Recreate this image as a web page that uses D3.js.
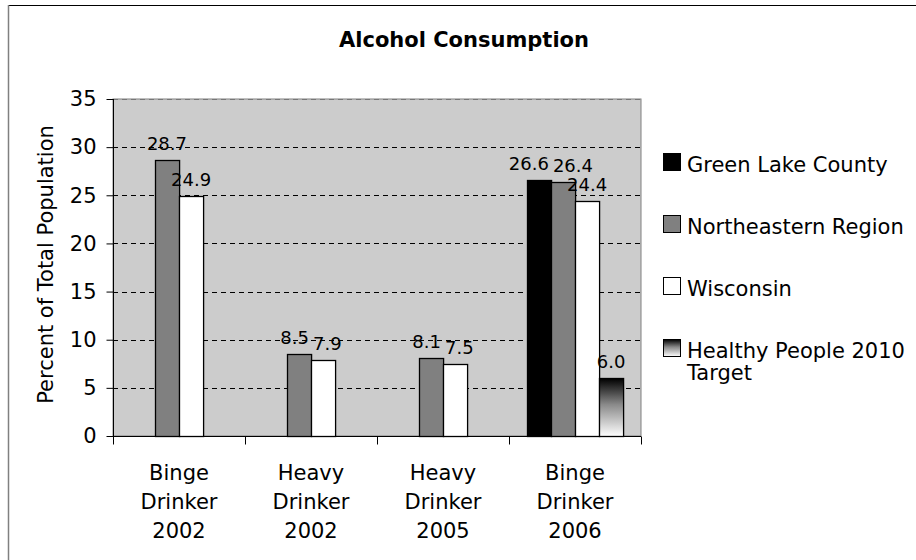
<!DOCTYPE html>
<html>
<head>
<meta charset="utf-8">
<script src="https://cdn.jsdelivr.net/npm/d3@7"></script>
<style>
  html, body { margin: 0; padding: 0; background: #fff; }
  svg { display: block; }
  text { font-family: "DejaVu Sans", Verdana, sans-serif; fill: #000; }
</style>
</head>
<body>
<svg id="chart" width="916" height="560"></svg>
<script>
// ---- Data ----
const title = "Alcohol Consumption";
const yAxisTitle = "Percent of Total Population";
const categories = [
  ["Binge", "Drinker", "2002"],
  ["Heavy", "Drinker", "2002"],
  ["Heavy", "Drinker", "2005"],
  ["Binge", "Drinker", "2006"]
];
const seriesNames = ["Green Lake County", "Northeastern Region", "Wisconsin", "Healthy People 2010 Target"];
const greenLake = [null, null, null, 26.6];
const northeastern = [28.7, 8.5, 8.1, 26.4];
const wisconsin = [24.9, 7.9, 7.5, 24.4];
const healthyPeople = [null, null, null, 6.0];
const yTicks = [0, 5, 10, 15, 20, 25, 30, 35];

const seriesValues = [greenLake, northeastern, wisconsin, healthyPeople];

// ---- Layout ----
const svg = d3.select("#chart");
const plot = { left: 113, right: 641, top: 99, bottom: 436 };

const defs = svg.append("defs");
const grad = defs.append("linearGradient")
  .attr("id", "hpGrad").attr("x1", 0).attr("y1", 0).attr("x2", 0).attr("y2", 1);
grad.append("stop").attr("offset", "0%").attr("stop-color", "#000");
grad.append("stop").attr("offset", "45%").attr("stop-color", "#8a8a8a");
grad.append("stop").attr("offset", "100%").attr("stop-color", "#fff");

const fills = ["#000000", "#808080", "#ffffff", "url(#hpGrad)"];

// outer frame (only top and left visible)
svg.append("line").attr("x1", 8).attr("x2", 916).attr("y1", 5.5).attr("y2", 5.5)
  .attr("stroke", "#000").attr("stroke-width", 1.2);
svg.append("line").attr("x1", 8.5).attr("x2", 8.5).attr("y1", 5).attr("y2", 560)
  .attr("stroke", "#808080").attr("stroke-width", 1.5);

// scales
const x0 = d3.scaleBand().domain(d3.range(categories.length))
  .range([plot.left, plot.right]).paddingInner(0).paddingOuter(0);
const gap = x0.bandwidth() * 0.135;
const x1 = d3.scaleBand().domain(d3.range(seriesNames.length))
  .range([gap, x0.bandwidth() - gap]).padding(0);
const y = d3.scaleLinear().domain([0, 35]).range([plot.bottom, plot.top]);

// plot background
svg.append("rect")
  .attr("x", plot.left).attr("y", plot.top)
  .attr("width", plot.right - plot.left).attr("height", plot.bottom - plot.top)
  .attr("fill", "#cccccc").attr("stroke", "#808080").attr("stroke-width", 1);

// gridlines
svg.append("g").selectAll("line").data(yTicks.filter(t => t > 0))
  .join("line")
  .attr("x1", plot.left).attr("x2", plot.right)
  .attr("y1", d => Math.round(y(d)) + 0.5).attr("y2", d => Math.round(y(d)) + 0.5)
  .attr("stroke", d => d === 35 ? "#777" : "#000")
  .attr("stroke-width", 1.2)
  .attr("stroke-dasharray", "5,4");

// bars
const barData = [];
categories.forEach((c, ci) => {
  seriesValues.forEach((vals, si) => {
    if (vals[ci] != null) barData.push({ ci, si, v: vals[ci] });
  });
});

svg.append("g").selectAll("rect").data(barData).join("rect")
  .attr("x", d => Math.round(x0(d.ci) + x1(d.si)) + 0.5)
  .attr("y", d => Math.round(y(d.v)) + 0.5)
  .attr("width", x1.bandwidth())
  .attr("height", d => Math.round(y(0)) - Math.round(y(d.v)))
  .attr("fill", d => fills[d.si])
  .attr("stroke", "#000").attr("stroke-width", 1.3);

// data labels with simple horizontal de-overlap
const labelFont = 18;
const minGap = 4;
const labels = barData.map(d => ({
  ...d,
  text: d.v.toFixed(1),
  cx: x0(d.ci) + x1(d.si) + x1.bandwidth() / 2,
  by: y(d.v) - 10
}));
const tmp = svg.append("text").attr("font-size", labelFont);
labels.forEach(l => { tmp.text(l.text); l.w = tmp.node().getComputedTextLength(); });
tmp.remove();
d3.range(categories.length).forEach(ci => {
  const grp = labels.filter(l => l.ci === ci).sort((a, b) => a.cx - b.cx);
  for (let iter = 0; iter < 6; iter++) {
    for (let i = 0; i < grp.length - 1; i++) {
      const a = grp[i], b = grp[i + 1];
      const overlapX = (a.cx + a.w / 2 + minGap) - (b.cx - b.w / 2);
      const overlapY = Math.abs(a.by - b.by) < labelFont * 0.9;
      if (overlapX > 0 && overlapY) {
        a.cx -= overlapX / 2;
        b.cx += overlapX / 2;
      }
    }
  }
});
svg.append("g").selectAll("text").data(labels).join("text")
  .attr("x", d => d.cx).attr("y", d => d.by)
  .attr("text-anchor", "middle").attr("font-size", labelFont)
  .text(d => d.text);

// y axis
const yAxis = d3.axisLeft(y).tickValues(yTicks).tickSize(7).tickPadding(10).tickFormat(d3.format("d"));
const gy = svg.append("g").attr("transform", `translate(${plot.left + 0.5},0)`).call(yAxis);
gy.select(".domain").attr("stroke", "#000").attr("d", `M0,${plot.top}V${plot.bottom}`);
gy.selectAll(".tick line").attr("stroke", "#000");
gy.selectAll(".tick text").attr("font-size", 21).attr("font-family", "DejaVu Sans").attr("fill", "#000");

// x axis
const gx = svg.append("g").attr("transform", `translate(0,${plot.bottom + 0.5})`);
gx.append("line").attr("x1", plot.left).attr("x2", plot.right).attr("stroke", "#000");
gx.selectAll("line.tk").data(d3.range(categories.length + 1)).join("line")
  .attr("class", "tk")
  .attr("x1", i => (i < categories.length ? x0(i) : plot.right) + 0.5)
  .attr("x2", i => (i < categories.length ? x0(i) : plot.right) + 0.5)
  .attr("y1", 0).attr("y2", 8).attr("stroke", "#000");

const catText = svg.append("g").selectAll("text").data(categories).join("text")
  .attr("text-anchor", "middle").attr("font-size", 21)
  .attr("transform", (d, i) => `translate(${x0(i) + x0.bandwidth() / 2},480)`);
catText.selectAll("tspan").data(d => d).join("tspan")
  .attr("x", 0).attr("y", (d, i) => i * 29).text(d => d);

// y axis title
svg.append("text")
  .attr("transform", `translate(53,${(plot.top + plot.bottom) / 2 - 3}) rotate(-90)`)
  .attr("text-anchor", "middle").attr("font-size", 21)
  .text(yAxisTitle);

// title
svg.append("text").attr("x", 464).attr("y", 47)
  .attr("text-anchor", "middle").attr("font-size", 21).attr("font-weight", "bold")
  .text(title);

// legend
const legendY = [163, 225, 287, 349];
const lg = svg.append("g").selectAll("g").data(seriesNames).join("g")
  .attr("transform", (d, i) => `translate(663,${legendY[i]})`);
lg.append("rect").attr("x", 0.5).attr("y", -9.5).attr("width", 17).attr("height", 17)
  .attr("fill", (d, i) => fills[i]).attr("stroke", "#000").attr("stroke-width", 1);
const lt = lg.append("text").attr("x", 24).attr("y", 9).attr("font-size", 21);
lt.each(function (d) {
  const t = d3.select(this);
  if (d === "Healthy People 2010 Target") {
    t.append("tspan").attr("x", 24).attr("y", 9).text("Healthy People 2010");
    t.append("tspan").attr("x", 24).attr("y", 31).text("Target");
  } else {
    t.text(d);
  }
});
</script>
</body>
</html>
